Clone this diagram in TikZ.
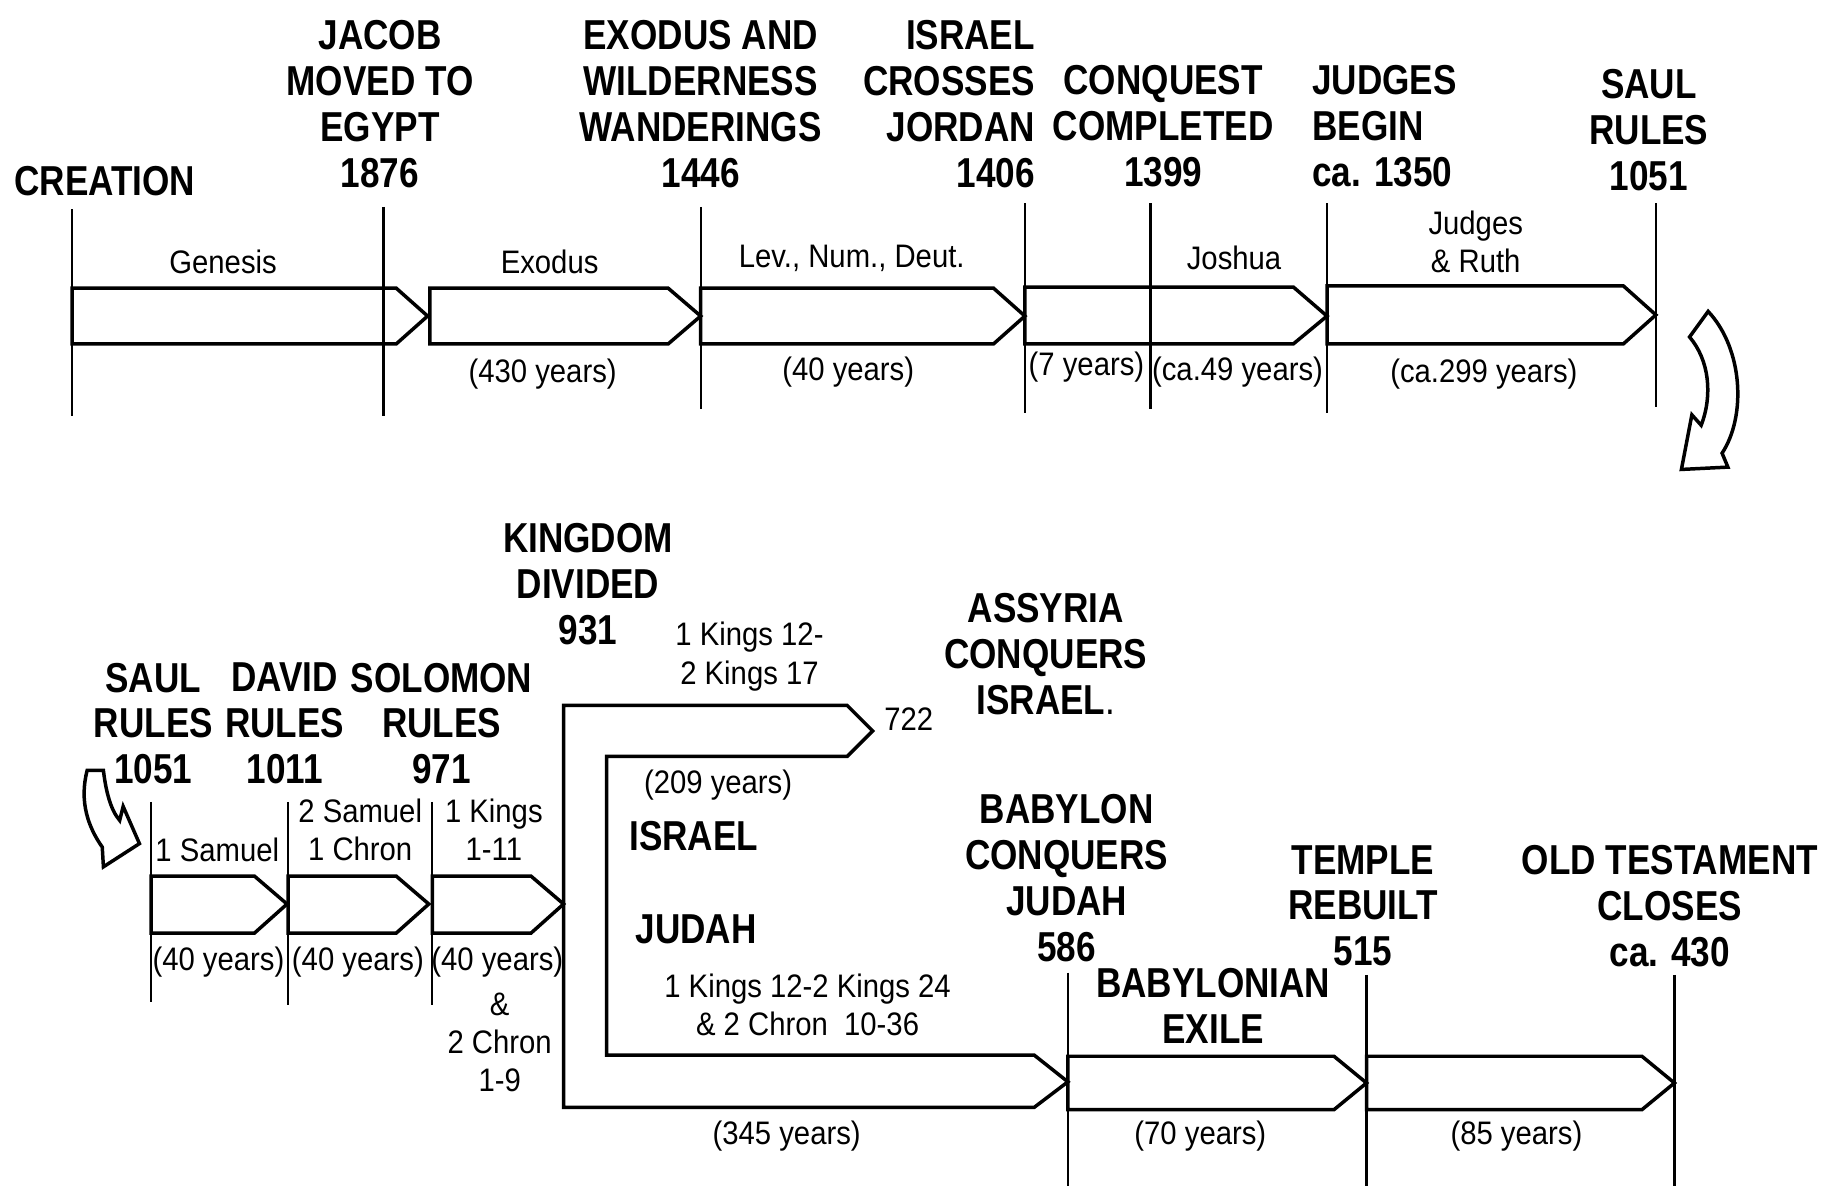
\documentclass[tikz,border=0pt]{standalone}
\usepackage{fontspec}
\newfontfamily\headfont[FakeStretch=0.84]{Liberation Sans}
\newfontfamily\notefont[FakeStretch=0.9]{Liberation Sans}

\begin{document}
\begin{tikzpicture}[x=0.5pt, y=-0.5pt,
    head/.style={font=\headfont\bfseries\fontsize{18}{19.75}\selectfont, align=center, inner sep=0pt, anchor=north},
    note/.style={font=\notefont\fontsize{14}{16.5}\selectfont, align=center, inner sep=0pt},
    tick/.style={line width=1pt},
    band/.style={line width=1.5pt, line join=miter}]

    \useasboundingbox (0,0) rectangle (1568,1021);

    % first line: creation to saul
    \draw[tick] (62,180) -- (62,358);
    \draw[tick] (330,178) -- (330,358);
    \draw[tick] (603,178) -- (603,352);
    \draw[tick] (882,175) -- (882,355);
    \draw[tick] (990,175) -- (990,352);
    \draw[tick] (1142,175) -- (1142,355);
    \draw[tick] (1425,175) -- (1425,350);

    \draw[band] (62,248) -- (341,248) -- (368,272) -- (341,296) -- (62,296) -- cycle;
    \draw[band] (370,248) -- (575,248) -- (603,272) -- (575,296) -- (370,296) -- cycle;
    \draw[band] (603,248) -- (855,248) -- (882,272) -- (855,296) -- (603,296) -- cycle;
    \draw[band] (882,247) -- (1113,247) -- (1142,272) -- (1113,296) -- (882,296) -- cycle;
    \draw[band] (1142,246) -- (1397,246) -- (1425,271) -- (1397,296) -- (1142,296) -- cycle;

    \node[head, anchor=north west, align=left] (creation) at (12,143) {CREATION};
    \node[head] (jacob) at (327,17) {JACOB\\MOVED TO\\EGYPT\\1876};
    \node[head] (wander) at (603,17) {EXODUS AND\\WILDERNESS\\WANDERINGS\\1446};
    \node[head, anchor=north east, align=right] (jordan) at (891,17) {ISRAEL\\CROSSES\\JORDAN\\1406};
    \node[head] (conquest) at (1001,56) {CONQUEST\\COMPLETED\\1399};
    \node[head, anchor=north west, align=left] (judges) at (1129,56) {JUDGES\\BEGIN\\ca. 1350};
    \node[head] (saulA) at (1419,59) {SAUL\\RULES\\1051};

    \node[note] (genesis) at (192,225) {Genesis};
    \node[note] (exodus) at (473,225) {Exodus};
    \node[note] (levnum) at (733,222) {Lev., Num., Deut.};
    \node[note] (joshua) at (1062,222) {Joshua};
    \node[note] (ruth) at (1270,208) {Judges\\\& Ruth};
    \node[note] (y430) at (467,322) {(430 years)};
    \node[note] (y40a) at (730,320) {(40 years)};
    \node[note] (y7) at (935,316) {(7 years)};
    \node[note] (y49) at (1065,320) {(ca.49 years)};
    \node[note] (y299) at (1277,322) {(ca.299 years)};

    % turn to the second line
    \draw[band] (1470,268) .. controls (1500,300) and (1503,358) .. (1482,390) -- (1487,402) -- (1447,404)
        -- (1456,357) -- (1464,366) .. controls (1474,340) and (1471,310) .. (1454,290) -- cycle;
    \draw[band] (75,663) -- (89,663) .. controls (91,680) and (95,697) .. (103,706) -- (106,694) -- (120,726)
        -- (89,746) -- (88,729) .. controls (76,712) and (68,690) .. (75,663) -- cycle;

    % second line: kings to the close
    \draw[tick] (130,690) -- (130,862);
    \draw[tick] (248,690) -- (248,865);
    \draw[tick] (372,690) -- (372,865);
    \draw[tick] (919,837) -- (919,1021);
    \draw[tick] (1176,839) -- (1176,1021);
    \draw[tick] (1441,839) -- (1441,1021);

    \draw[band] (130,754) -- (219,754) -- (247,778) -- (219,803) -- (130,803) -- cycle;
    \draw[band] (248,754) -- (341,754) -- (369,778) -- (341,803) -- (248,803) -- cycle;
    \draw[band] (372,754) -- (457,754) -- (485,778) -- (457,803) -- (372,803) -- cycle;
    \draw[band] (485,607) -- (729,607) -- (751,629) -- (729,651) -- (522,651) -- (522,908)
        -- (890,908) -- (919,931) -- (890,953) -- (485,953) -- cycle;
    \draw[band] (919,909) -- (1148,909) -- (1176,932) -- (1148,955) -- (919,955) -- cycle;
    \draw[band] (1176,909) -- (1413,909) -- (1441,932) -- (1413,955) -- (1176,955) -- cycle;

    \node[head] (saulB) at (132,570) {SAUL\\RULES\\1051};
    \node[head] (david) at (245,570) {DAVID\\RULES\\1011};
    \node[head] (solomon) at (380,570) {SOLOMON\\RULES\\971};
    \node[head] (divided) at (506,450) {KINGDOM\\DIVIDED\\931};
    \node[head] (assyria) at (900,510) {ASSYRIA\\CONQUERS\\ISRAEL{\mdseries.}};
    \node[head] (israel) at (597,706) {ISRAEL};
    \node[head] (judah) at (599,787) {JUDAH};
    \node[head] (babylon) at (918,683) {BABYLON\\CONQUERS\\JUDAH\\586};
    \node[head] (exile) at (1044,833) {BABYLONIAN\\EXILE};
    \node[head] (temple) at (1173,727) {TEMPLE\\REBUILT\\515};
    \node[head] (closes) at (1437,727) {OLD TESTAMENT\\CLOSES\\ca. 430};

    \node[note] (sam1) at (187,731) {1 Samuel};
    \node[note] (sam2) at (310,714) {2 Samuel\\1 Chron};
    \node[note] (kings1) at (425,714) {1 Kings\\1-11};
    \node[note] (y40b) at (188,828) {(40 years)};
    \node[note] (y40c) at (308,828) {(40 years)};
    \node[note] (y40d) at (428,828) {(40 years)};
    \node[note] (chron2) at (430,897) {\&\\2 Chron\\1-9};
    \node[note] (kings12) at (645,565) {1 Kings 12-\\2 Kings 17};
    \node[note] (d722) at (782,619) {722};
    \node[note] (y209) at (618,676) {(209 years)};
    \node[note] (kings24) at (695,865) {1 Kings 12-2 Kings 24\\\& 2 Chron~~10-36};
    \node[note] (y345) at (677,978) {(345 years)};
    \node[note] (y70) at (1033,978) {(70 years)};
    \node[note] (y85) at (1305,978) {(85 years)};
\end{tikzpicture}
\end{document}
